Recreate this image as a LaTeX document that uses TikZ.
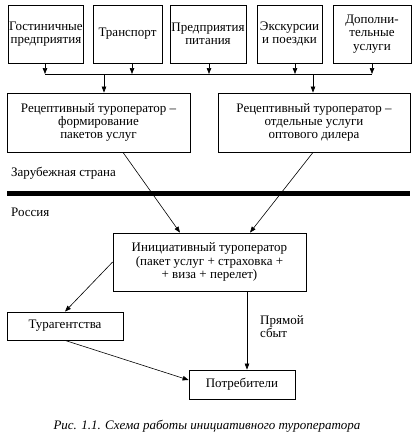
\documentclass[tikz,border=0pt]{standalone}
\usepackage{fontspec}
\setmainfont{Liberation Serif}
\usetikzlibrary{arrows.meta}

\begin{document}
\begin{tikzpicture}[
    x=1pt, y=-1pt,
    box/.style={draw, line width=0.8pt, align=center, inner sep=1pt,
                font=\rmfamily\fontsize{13}{13.3}\selectfont},
    arr/.style={-{Triangle[length=6pt, width=4.5pt]}, line width=0.7pt},
    lbl/.style={font=\rmfamily\fontsize{13}{13.3}\selectfont, inner sep=0pt}
  ]
  \useasboundingbox (0,0) rectangle (418,434);
  % suppliers
  \node[box, minimum width=72pt, minimum height=58pt] (hotel) at (46,34) {Гостиничные\\предприятия};
  \node[box, minimum width=69pt, minimum height=58pt] (trans) at (127.5,34) {Транспорт};
  \node[box, minimum width=76pt, minimum height=58pt] (food) at (208,34) {Предприятия\\питания};
  \node[box, minimum width=65pt, minimum height=58pt] (exc) at (289.5,34) {Экскурсии\\и поездки};
  \node[box, minimum width=78pt, minimum height=58pt] (extra) at (372,34) {Дополни-\\тельные\\услуги};
  % bus
  \coordinate (bus1) at (45,74);
  \coordinate (bus2) at (132,74);
  \coordinate (bus3) at (209,74);
  \coordinate (bus4) at (295,74);
  \coordinate (bus5) at (372,74);
  \coordinate (busL) at (104,74);
  \coordinate (busR) at (313,74);
  \draw[arr] (hotel.south -| bus1) -- (bus1);
  \draw[arr] (trans.south -| bus2) -- (bus2);
  \draw[arr] (food.south -| bus3) -- (bus3);
  \draw[arr] (exc.south -| bus4) -- (bus4);
  \draw[arr] (extra.south -| bus5) -- (bus5);
  \draw[line width=0.8pt] (bus1) -- (bus5);
  % receptive operators
  \node[box, minimum width=183pt, minimum height=59pt] (recL) at (98.5,122.5) {Рецептивный туроператор –\\формирование\\пакетов услуг};
  \node[box, minimum width=192pt, minimum height=59pt] (recR) at (314,122.5) {Рецептивный туроператор –\\отдельные услуги\\оптового дилера};
  \draw[arr] (busL) -- (busL |- recL.north);
  \draw[arr] (busR) -- (busR |- recR.north);
  % border
  \node[lbl, anchor=west] (abroad) at (11,173) {Зарубежная страна};
  \draw[line width=5pt] (7,193) -- (410,193);
  \node[lbl, anchor=west] (russia) at (11,212) {Россия};
  % initiative operator
  \node[box, minimum width=193pt, minimum height=58pt] (init) at (209.5,262) {Инициативный туроператор\\(пакет услуг + страховка +\\+ виза + перелет)};
  \draw[arr, line width=0.6pt] ([xshift=24.5pt]recL.south) -- ([xshift=-29.5pt]init.north);
  \draw[arr, line width=0.6pt] ([xshift=-1pt]recR.south) -- ([xshift=40.5pt]init.north);
  % sales
  \node[box, minimum width=116pt, minimum height=28pt] (agency) at (65,326) {Турагентства};
  \node[box, minimum width=106pt, minimum height=29pt] (client) at (242,384.5) {Потребители};
  \coordinate (direct) at ([xshift=37.5pt]init.south);
  \draw[arr, line width=0.6pt] (init.west) -- (agency.north);
  \draw[arr] (direct) -- (direct |- client.north);
  \draw[arr, line width=0.6pt] (agency.south) -- ([yshift=4.5pt]client.west);
  \node[lbl, anchor=north west, align=left] (directlbl) at (260,315) {Прямой\\сбыт};
  % caption
  \node[lbl, font=\rmfamily\itshape\fontsize{13}{13.3}\selectfont] (caption) at (207,426) {Рис. 1.1. Схема работы инициативного туроператора};
\end{tikzpicture}
\end{document}
